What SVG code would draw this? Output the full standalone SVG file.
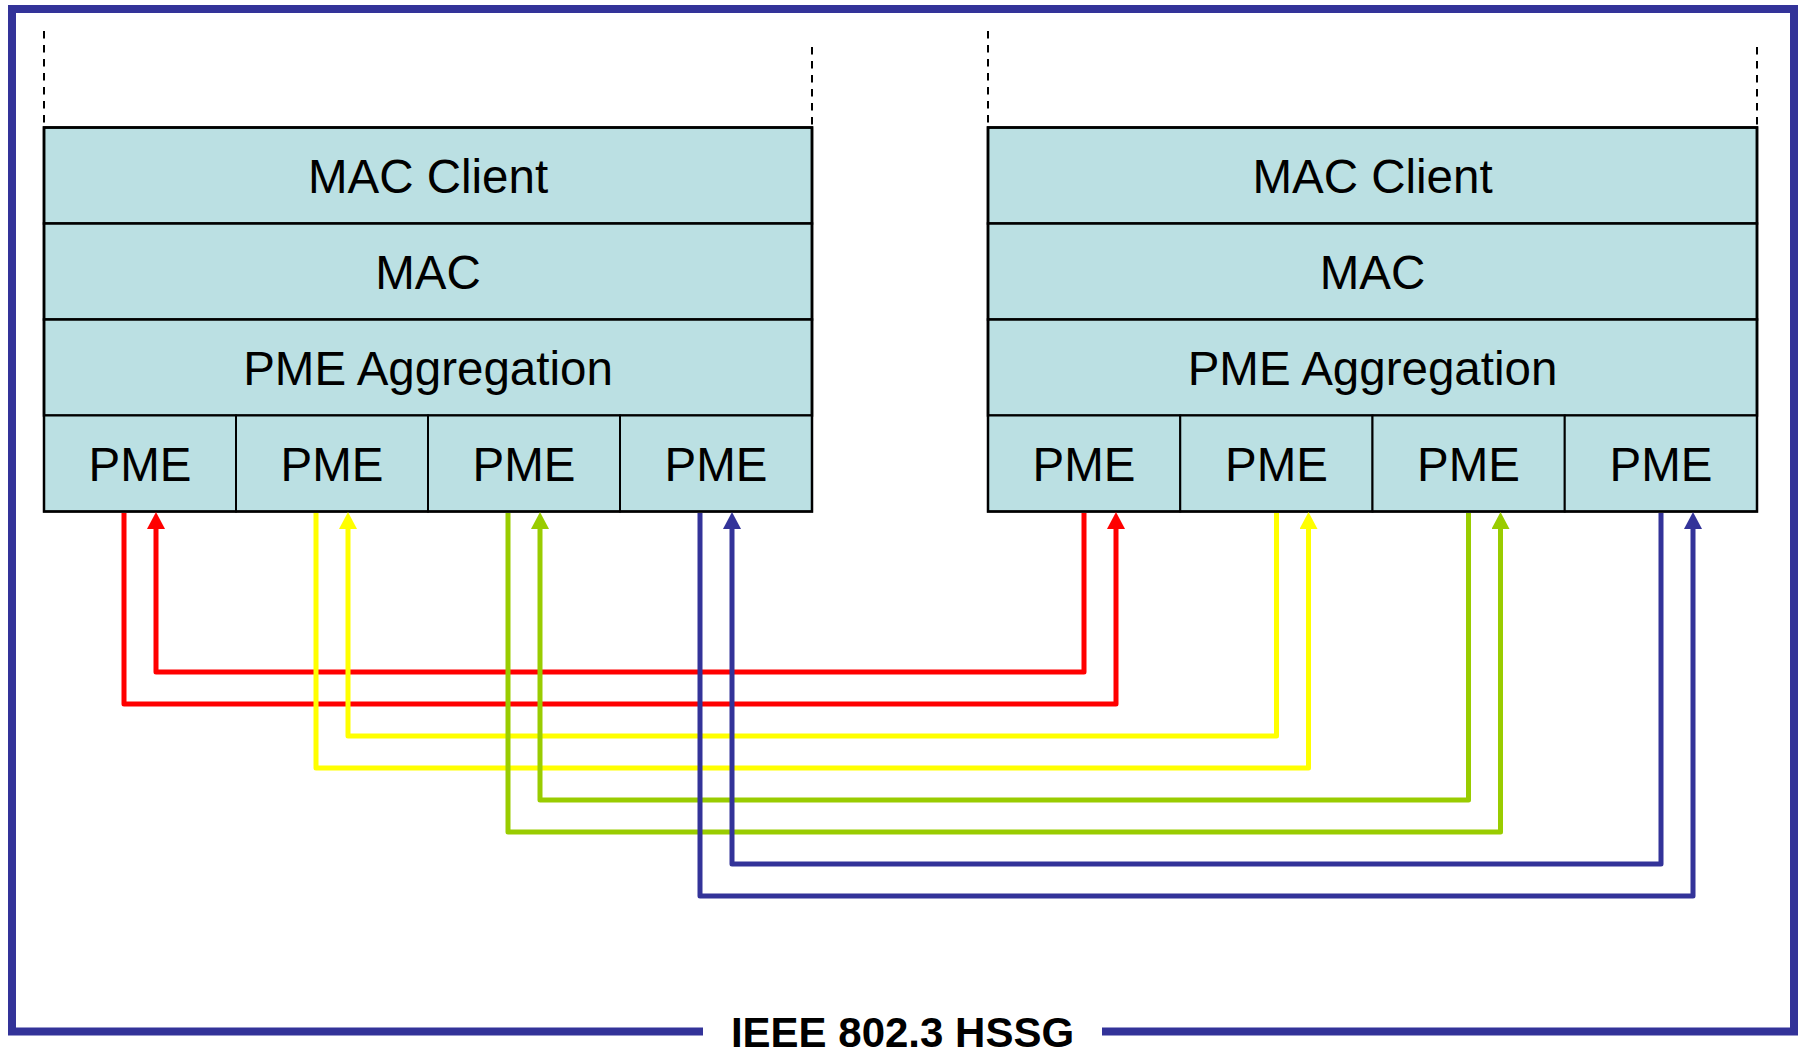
<svg xmlns="http://www.w3.org/2000/svg" width="1799" height="1051" viewBox="0 0 1799 1051">
  <defs>
    <style>
      .layer { fill: #BBE0E3; stroke: #000; stroke-width: 2.5; }
      .cell { fill: #BBE0E3; stroke: #000; stroke-width: 2; }
      .lbl { font-family: "Liberation Sans", Arial, sans-serif; font-size: 47.5px; fill: #000; text-anchor: middle; }
      .dash { stroke: #000; stroke-width: 2; stroke-dasharray: 7.5 6.5; fill: none; }
      .frame { stroke: #333399; stroke-width: 8; fill: none; }
      .c { fill: none; stroke-width: 5; stroke-linejoin: round; }
      .red { stroke: #FF0000; }
      .yel { stroke: #FFFF00; }
      .grn { stroke: #99CC00; }
      .blu { stroke: #333399; }
      .title { font-family: "Liberation Sans", Arial, sans-serif; font-size: 42px; font-weight: bold; fill: #000; text-anchor: middle; }
    </style>
    <marker id="aR" viewBox="0 0 17 18" markerWidth="17" markerHeight="18" refX="0" refY="9" orient="auto" markerUnits="userSpaceOnUse"><path d="M0,0 L17,9 L0,18 z" fill="#FF0000"/></marker>
    <marker id="aY" viewBox="0 0 17 18" markerWidth="17" markerHeight="18" refX="0" refY="9" orient="auto" markerUnits="userSpaceOnUse"><path d="M0,0 L17,9 L0,18 z" fill="#FFFF00"/></marker>
    <marker id="aG" viewBox="0 0 17 18" markerWidth="17" markerHeight="18" refX="0" refY="9" orient="auto" markerUnits="userSpaceOnUse"><path d="M0,0 L17,9 L0,18 z" fill="#99CC00"/></marker>
    <marker id="aB" viewBox="0 0 17 18" markerWidth="17" markerHeight="18" refX="0" refY="9" orient="auto" markerUnits="userSpaceOnUse"><path d="M0,0 L17,9 L0,18 z" fill="#333399"/></marker>
  </defs>

  <g id="frame">
    <path class="frame" d="M703,1031.5 L12,1031.5 L12,9 L1794,9 L1794,1031.5 L1102,1031.5"/>
    <text class="title" x="902.5" y="1047">IEEE 802.3 HSSG</text>
  </g>

  <g id="left-stack">
    <line class="dash" x1="44" y1="31" x2="44" y2="127.5"/>
    <line class="dash" x1="812" y1="47" x2="812" y2="127.5"/>
    <g id="L-macclient"><rect class="layer" x="44" y="127.5" width="768" height="96"/><text class="lbl" x="428" y="193">MAC Client</text></g>
    <g id="L-mac"><rect class="layer" x="44" y="223.5" width="768" height="96"/><text class="lbl" x="428" y="289">MAC</text></g>
    <g id="L-pmeagg"><rect class="layer" x="44" y="319.5" width="768" height="96"/><text class="lbl" x="428" y="385">PME Aggregation</text></g>
    <g id="L-pme1"><rect class="cell" x="44" y="415.5" width="192" height="96"/><text class="lbl" x="140" y="481">PME</text></g>
    <g id="L-pme2"><rect class="cell" x="236" y="415.5" width="192" height="96"/><text class="lbl" x="332" y="481">PME</text></g>
    <g id="L-pme3"><rect class="cell" x="428" y="415.5" width="192" height="96"/><text class="lbl" x="524" y="481">PME</text></g>
    <g id="L-pme4"><rect class="cell" x="620" y="415.5" width="192" height="96"/><text class="lbl" x="716" y="481">PME</text></g>
    <rect x="44" y="127.5" width="768" height="384" fill="none" stroke="#000" stroke-width="2.5"/>
  </g>

  <g id="right-stack">
    <line class="dash" x1="988" y1="31" x2="988" y2="127.5"/>
    <line class="dash" x1="1757" y1="47" x2="1757" y2="127.5"/>
    <g id="R-macclient"><rect class="layer" x="988" y="127.5" width="769" height="96"/><text class="lbl" x="1372.5" y="193">MAC Client</text></g>
    <g id="R-mac"><rect class="layer" x="988" y="223.5" width="769" height="96"/><text class="lbl" x="1372.5" y="289">MAC</text></g>
    <g id="R-pmeagg"><rect class="layer" x="988" y="319.5" width="769" height="96"/><text class="lbl" x="1372.5" y="385">PME Aggregation</text></g>
    <g id="R-pme1"><rect class="cell" x="988" y="415.5" width="192.25" height="96"/><text class="lbl" x="1084" y="481">PME</text></g>
    <g id="R-pme2"><rect class="cell" x="1180.25" y="415.5" width="192.25" height="96"/><text class="lbl" x="1276.5" y="481">PME</text></g>
    <g id="R-pme3"><rect class="cell" x="1372.5" y="415.5" width="192.25" height="96"/><text class="lbl" x="1468.5" y="481">PME</text></g>
    <g id="R-pme4"><rect class="cell" x="1564.75" y="415.5" width="192.25" height="96"/><text class="lbl" x="1661" y="481">PME</text></g>
    <rect x="988" y="127.5" width="769" height="384" fill="none" stroke="#000" stroke-width="2.5"/>
  </g>

  <g id="connectors">
    <path class="c red" d="M1084,513 L1084,672 L156,672 L156,529" marker-end="url(#aR)"/>
    <path class="c red" d="M124,513 L124,704 L1116,704 L1116,529" marker-end="url(#aR)"/>
    <path class="c yel" d="M1276.5,513 L1276.5,736 L348,736 L348,529" marker-end="url(#aY)"/>
    <path class="c yel" d="M316,513 L316,768 L1308.5,768 L1308.5,529" marker-end="url(#aY)"/>
    <path class="c grn" d="M1468.5,513 L1468.5,800 L540,800 L540,529" marker-end="url(#aG)"/>
    <path class="c grn" d="M508,513 L508,832 L1500.5,832 L1500.5,529" marker-end="url(#aG)"/>
    <path class="c blu" d="M1661,513 L1661,864 L732,864 L732,529" marker-end="url(#aB)"/>
    <path class="c blu" d="M700,513 L700,896 L1693,896 L1693,529" marker-end="url(#aB)"/>
  </g>
</svg>
